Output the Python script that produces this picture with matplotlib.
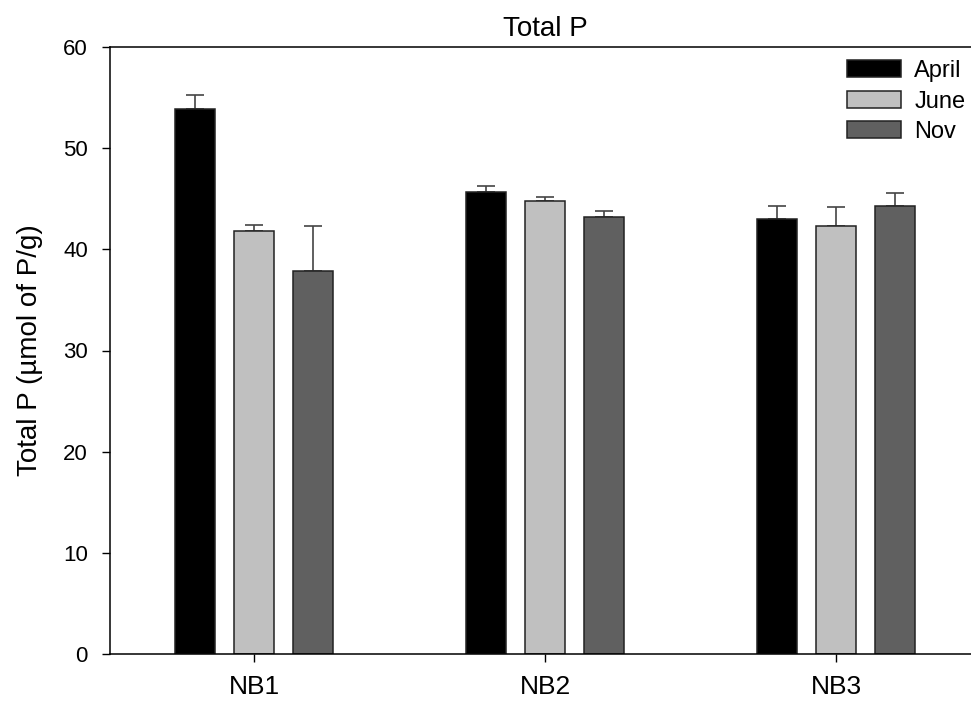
import matplotlib.pyplot as plt
import numpy as np

plt.rcParams['font.family'] = ['Liberation Sans', 'DejaVu Sans']

sites = ['NB1', 'NB2', 'NB3']
months = ['April', 'June', 'Nov']
april = [53.9, 45.7, 43.0]
june = [41.8, 44.8, 42.3]
nov = [37.9, 43.2, 44.3]
april_err = [1.4, 0.6, 1.3]
june_err = [0.6, 0.4, 1.9]
nov_err = [4.4, 0.6, 1.3]

colors = ['#000000', '#c0c0c0', '#606060']

fig = plt.figure(figsize=(9.71, 7.04), dpi=100)
# axes runs off the right edge, as in the original (no right spine visible)
ax = fig.add_axes([110 / 971, 50 / 704, 0.896, 607 / 704])

x = np.arange(1, len(sites) + 1)
width = 0.1375
offsets = [-0.203, 0.0, 0.203]
handles = []
for vals, errs, col, off, lab in zip([april, june, nov], [april_err, june_err, nov_err],
                                     colors, offsets, months):
    b = ax.bar(x + off, vals, width, color=col, edgecolor='#222222', linewidth=1.1,
               label=lab, zorder=2)
    ax.errorbar(x + off, vals, yerr=[np.zeros(len(errs)), errs], fmt='none',
                ecolor='#444444', elinewidth=1.2, capsize=6.4, capthick=1.2, zorder=1)
    handles.append(b)

ax.set_xlim(0.505, 3.495)
ax.set_ylim(0, 60)
ax.set_yticks(range(0, 61, 10))
ax.set_xticks(x)
ax.set_xticklabels(sites, fontsize=19)
ax.tick_params(axis='y', direction='out', length=6, width=1, labelsize=16, pad=10)
ax.tick_params(axis='x', direction='out', length=6, width=1, pad=9)
ax.set_ylabel('Total P (µmol of P/g)', fontsize=20, labelpad=14)
ax.set_title('Total P', fontsize=20, pad=8)
for s in ax.spines.values():
    s.set_linewidth(1.1)

fig.legend(handles=handles, labels=months, loc='upper left',
           bbox_to_anchor=(847 / 971, 1 - 60 / 704), frameon=False, fontsize=17,
           borderpad=0, borderaxespad=0, handlelength=2.3, handleheight=0.76,
           labelspacing=0.36, handletextpad=0.55)

fig.savefig('out.png', dpi=100)
